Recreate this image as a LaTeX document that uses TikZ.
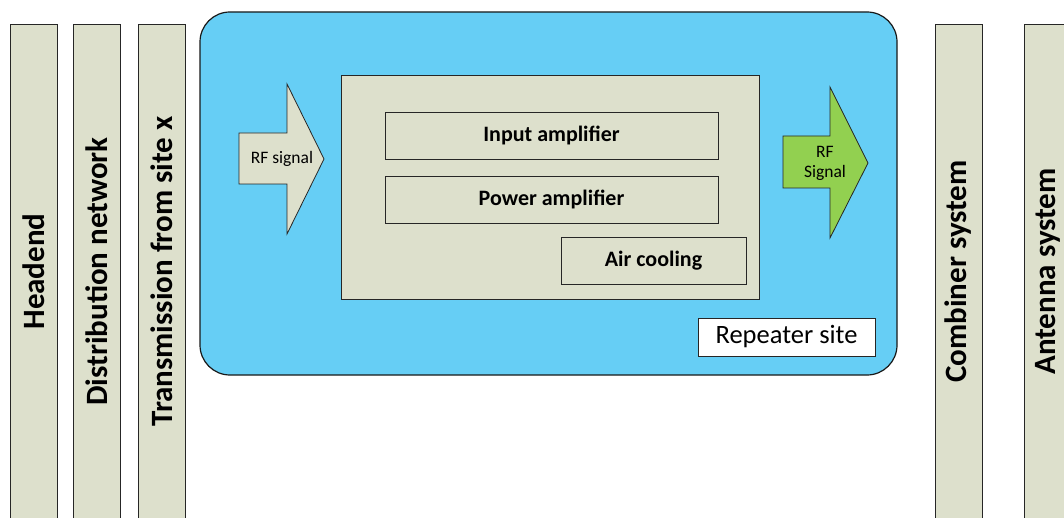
\documentclass[tikz,border=0pt]{standalone}
\usepackage{fontspec}
\setmainfont{Carlito}
\usetikzlibrary{positioning}
\definecolor{siteblue}{RGB}{102,206,245}
\definecolor{boxgray}{RGB}{221,224,204}
\definecolor{siggreen}{RGB}{146,208,80}

\begin{document}
\begin{tikzpicture}[x=1pt,y=-1pt,
	  col/.style={draw=black!85,fill=boxgray,line width=0.8pt,rotate=90,minimum height=47pt,
	    inner sep=0pt,font=\bfseries\fontsize{31}{35}\selectfont},
	  part/.style={draw=black!85,fill=boxgray,line width=0.8pt,minimum height=47pt,
	    inner sep=0pt,font=\bfseries\fontsize{22}{26}\selectfont},
	  sig/.style={font=\fontsize{17.5}{20}\selectfont,align=center,inner sep=0pt},
	  arr/.style={draw=black!85,line width=0.8pt}]
	
	 \useasboundingbox (0,0) rectangle (1064,518);
	
	 % outer site
	 \node[draw=black!90,fill=siteblue,line width=1.2pt,rounded corners=30pt,
	   minimum width=697pt,minimum height=363pt] (site) at (548.5,193.5) {};
	 \node[draw=black!85,fill=boxgray,line width=0.8pt,minimum width=418pt,
	   minimum height=224pt] (unit) at (550,187) {};
	
	 \node[part, minimum width=333pt] (inamp) at (551.5,135.5) {Input amplifier};
	 \node[part, minimum width=333pt] (pwamp) at (551.5,199.5) {Power amplifier};
	 \node[part, minimum width=185pt] (air) at (653.5,260.5) {Air cooling};
	 \node[draw=black!85,fill=white,line width=0.8pt,minimum width=177pt,minimum height=38pt,
	   inner sep=0pt,font=\fontsize{26.5}{30}\selectfont] (rep) at (786.5,337) {Repeater site};
	
	 % signal arrows
	 \draw[arr,fill=boxgray] (239,133) -- (287,133) -- (287,84) -- (324,159)
	   -- (287,234) -- (287,184) -- (239,184) -- cycle;
	 \node[sig] (rfin) at (282,159) {RF signal};
	 \draw[arr,fill=siggreen] (783,136) -- (830,136) -- (830,87) -- (868,163)
	   -- (830,238) -- (830,188) -- (783,188) -- cycle;
	 \node[sig] (rfout) at (825,163) {RF\\Signal};
	
	 % side columns
	 \node[col, minimum width=495pt] (head) at (34,271.5) {Headend};
	 \node[col, minimum width=495pt] (dist) at (96.5,271.5) {Distribution network};
	 \node[col, minimum width=495pt] (trans) at (161.5,271.5) {Transmission from site x};
	 \node[col, minimum width=495pt] (comb) at (958.5,271.5) {Combiner system};
	 \node[col, minimum width=495pt] (ant) at (1047.5,271.5) {Antenna system};
\end{tikzpicture}
\end{document}
